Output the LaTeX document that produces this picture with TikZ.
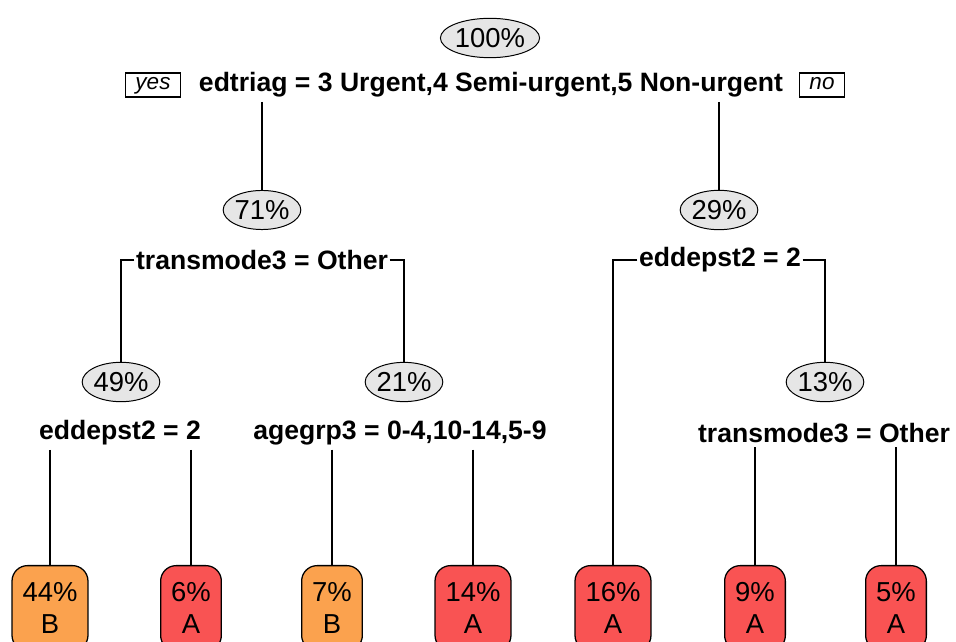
\documentclass[tikz,border=0pt]{standalone}
\usepackage{fontspec}
\setmainfont{Liberation Sans}
\usetikzlibrary{shapes.geometric, positioning, calc}
\definecolor{rpGrey}{HTML}{E6E6E6}
\definecolor{rpOrange}{HTML}{FBA24E}
\definecolor{rpRed}{HTML}{F95353}
\newcommand{\pctfont}{\fontsize{19.5}{25.5}\selectfont}
\newcommand{\leaffont}{\fontsize{19.5}{23}\selectfont}
\newcommand{\splitfont}{\fontsize{18.9}{23}\selectfont\bfseries}
\tikzset{
  branch/.style   = {line width=1pt, black},
  pctnode/.style  = {ellipse, draw=black, line width=0.7pt, fill=rpGrey,
                     inner xsep=0pt, inner ysep=3pt, font=\pctfont},
  splitlbl/.style = {font=\splitfont, inner xsep=1pt, inner ysep=3pt},
  leaf/.style     = {rectangle, rounded corners=11pt, draw=black, line width=0.9pt,
                     align=center, anchor=north, inner xsep=7.5pt, inner ysep=12pt,
                     font=\leaffont},
  leafA/.style    = {leaf, fill=rpRed},
  leafB/.style    = {leaf, fill=rpOrange},
  yesno/.style    = {draw=black, line width=0.8pt, inner xsep=7pt, inner ysep=3pt,
                     text height=1.6ex, text depth=0.5ex,
                     font=\fontsize{16}{18}\selectfont\itshape},
}

\begin{document}
\begin{tikzpicture}[x=0.025cm, y=-0.025cm]
  \useasboundingbox (0,0) rectangle (956,642);

  % root
  \node[pctnode] (n100) at (490,38) {100\%};
  \node[splitlbl] (s1) at (491,85) {edtriag = 3 Urgent,4 Semi-urgent,5 Non-urgent};
  \node[yesno] (yes) at (153,85) {yes};
  \node[yesno] (no) at (822,85) {no};

  % second level
  \node[pctnode] (n71) at (262,210) {71\%};
  \node[pctnode] (n29) at (719,210) {29\%};
  \node[splitlbl] (s2l) at (262,260) {transmode3 = Other};
  \node[splitlbl] (s2r) at (720,260) {eddepst2 = 2};

  % third level
  \node[pctnode] (n49) at (121,382) {49\%};
  \node[pctnode] (n21) at (404,382) {21\%};
  \node[pctnode] (n13) at (825,382) {13\%};
  \node[splitlbl] (s3a) at (120,433) {eddepst2 = 2};
  \node[splitlbl] (s3b) at (400,433) {agegrp3 = 0-4,10-14,5-9};
  \node[splitlbl] (s3c) at (824,433) {transmode3 = Other};

  % leaves
  \node[leafB] (l44) at (50,565)  {44\%\\B};
  \node[leafA] (l6)  at (191,565) {6\%\\A};
  \node[leafB] (l7)  at (332,565) {7\%\\B};
  \node[leafA] (l14) at (473,565) {14\%\\A};
  \node[leafA] (l16) at (613,565) {16\%\\A};
  \node[leafA] (l9)  at (755,565) {9\%\\A};
  \node[leafA] (l5)  at (896,565) {5\%\\A};

  \draw[branch] (s1.south -| n71.north) -- (n71.north);
  \draw[branch] (s1.south -| n29.north) -- (n29.north);
  \draw[branch] (s2l.west) -| (n49.north);
  \draw[branch] (s2l.east) -| (n21.north);
  \draw[branch] (s2r.west) -| (l16.north);
  \draw[branch] (s2r.east) -| (n13.north);
  \foreach \s/\l in {s3a/l44, s3a/l6, s3b/l7, s3b/l14, s3c/l9, s3c/l5}
    \draw[branch] (\s.south -| \l.north) -- (\l.north);
\end{tikzpicture}
\end{document}
